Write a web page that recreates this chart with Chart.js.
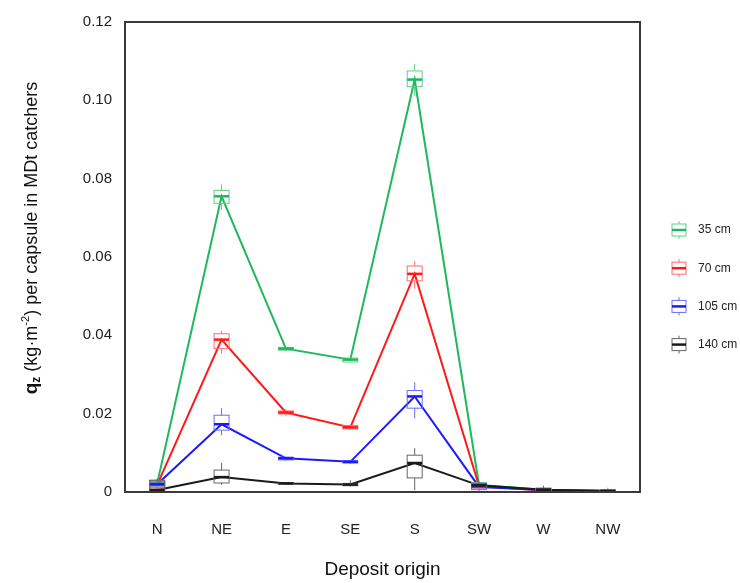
<!DOCTYPE html>
<html>
<head>
<meta charset="utf-8">
<script src="https://cdn.jsdelivr.net/npm/chart.js@4"></script>
<style>
  html, body { margin: 0; padding: 0; background: #fff; }
  #wrap { width: 740px; height: 583px; }
</style>
</head>
<body>
<div id="wrap"><canvas id="boxChart"></canvas></div>
<script>
// categories and tick labels
const origins = ['N', 'NE', 'E', 'SE', 'S', 'SW', 'W', 'NW'];
const yTicks = [0, 0.02, 0.04, 0.06, 0.08, 0.10, 0.12];

// 35 cm
const med35 = [0.0022, 0.0755, 0.0366, 0.0338, 0.1053, 0.0018, 0.0006, 0.0003];
const q1_35 = [0.0015, 0.0737, 0.0362, 0.0332, 0.1035, 0.0012, 0.0003, 0.0001];
const q3_35 = [0.0028, 0.0770, 0.0369, 0.0342, 0.1075, 0.0024, 0.0009, 0.0005];
const lo35  = [0.0010, 0.0720, 0.0360, 0.0330, 0.1010, 0.0010, 0.0002, 0.0000];
const hi35  = [0.0032, 0.0786, 0.0371, 0.0345, 0.1093, 0.0028, 0.0011, 0.0007];

// 70 cm
const med70 = [0.0018, 0.0389, 0.0203, 0.0165, 0.0557, 0.0015, 0.0004, 0.0002];
const q1_70 = [0.0008, 0.0366, 0.0199, 0.0161, 0.0539, 0.0010, 0.0001, 0.0000];
const q3_70 = [0.0030, 0.0404, 0.0207, 0.0170, 0.0577, 0.0020, 0.0008, 0.0005];
const lo70  = [0.0003, 0.0353, 0.0193, 0.0160, 0.0519, 0.0007, 0.0000, 0.0000];
const hi70  = [0.0034, 0.0412, 0.0212, 0.0172, 0.0590, 0.0024, 0.0012, 0.0011];

// 105 cm
const med105 = [0.0020, 0.0173, 0.0086, 0.0077, 0.0244, 0.0013, 0.0005, 0.0003];
const q1_105 = [0.0012, 0.0158, 0.0082, 0.0074, 0.0214, 0.0006, 0.0003, 0.0001];
const q3_105 = [0.0026, 0.0196, 0.0089, 0.0080, 0.0259, 0.0022, 0.0007, 0.0005];
const lo105  = [0.0008, 0.0145, 0.0080, 0.0072, 0.0188, 0.0000, 0.0002, 0.0000];
const hi105  = [0.0030, 0.0214, 0.0090, 0.0082, 0.0280, 0.0026, 0.0009, 0.0006];

// 140 cm
const med140 = [0.0005, 0.0038, 0.0022, 0.0019, 0.0074, 0.0017, 0.0006, 0.0002];
const q1_140 = [0.0003, 0.0023, 0.0020, 0.0016, 0.0036, 0.0012, 0.0003, 0.0001];
const q3_140 = [0.0030, 0.0056, 0.0024, 0.0022, 0.0094, 0.0022, 0.0010, 0.0004];
const lo140  = [0.0001, 0.0018, 0.0019, 0.0014, 0.0005, 0.0010, 0.0001, 0.0000];
const hi140  = [0.0034, 0.0074, 0.0025, 0.0030, 0.0112, 0.0025, 0.0016, 0.0006];

const seriesNames = ['35 cm', '70 cm', '105 cm', '140 cm'];
const lineColors = ['#1fb85a', '#ff1a1a', '#1a1aff', '#1a1a1a'];
const boxColors = ['#5fd08a', '#ff6a6a', '#6a6aff', '#666666'];

const boxes = [
  { q1: q1_35, q3: q3_35, lo: lo35, hi: hi35, med: med35 },
  { q1: q1_70, q3: q3_70, lo: lo70, hi: hi70, med: med70 },
  { q1: q1_105, q3: q3_105, lo: lo105, hi: hi105, med: med105 },
  { q1: q1_140, q3: q3_140, lo: lo140, hi: hi140, med: med140 }
];

const FONT = '"Liberation Sans", Arial, sans-serif';

function drawBoxIcon(ctx, cx, yTop, yQ3, yMed, yQ1, yBot, w, lineCol, boxCol) {
  ctx.save();
  ctx.strokeStyle = boxCol;
  ctx.lineWidth = 1;
  ctx.beginPath();
  ctx.moveTo(cx, yTop); ctx.lineTo(cx, yQ3);
  ctx.moveTo(cx, yQ1); ctx.lineTo(cx, yBot);
  ctx.stroke();
  ctx.strokeRect(cx - w / 2, yQ3, w, Math.max(yQ1 - yQ3, 1));
  ctx.strokeStyle = lineCol;
  ctx.lineWidth = 2.5;
  ctx.beginPath();
  ctx.moveTo(cx - w / 2, yMed); ctx.lineTo(cx + w / 2, yMed);
  ctx.stroke();
  ctx.restore();
}

const boxPlugin = {
  id: 'boxPlugin',
  afterDatasetsDraw(chart) {
    const ctx = chart.ctx;
    const x = chart.scales.x, y = chart.scales.y;
    boxes.forEach((b, s) => {
      origins.forEach((o, i) => {
        const cx = x.getPixelForValue(i);
        drawBoxIcon(ctx, cx,
          y.getPixelForValue(b.hi[i]), y.getPixelForValue(b.q3[i]),
          y.getPixelForValue(b.med[i]), y.getPixelForValue(b.q1[i]),
          y.getPixelForValue(b.lo[i]), 15, lineColors[s], boxColors[s]);
      });
    });
  },
  afterDraw(chart) {
    const ctx = chart.ctx;
    const a = chart.chartArea;
    // frame
    ctx.save();
    ctx.strokeStyle = '#3a3a3a';
    ctx.lineWidth = 2;
    ctx.strokeRect(a.left, a.top, a.right - a.left, a.bottom - a.top);
    ctx.restore();

    // legend
    ctx.save();
    seriesNames.forEach((name, s) => {
      const cy = 230 + s * 38.2;
      drawBoxIcon(ctx, 679, cy - 9, cy - 6, cy, cy + 6, cy + 9, 14, lineColors[s], boxColors[s]);
      ctx.fillStyle = '#222';
      ctx.font = '12px ' + FONT;
      ctx.textBaseline = 'middle';
      ctx.textAlign = 'left';
      ctx.fillText(name, 698, cy);
    });
    ctx.restore();

    // y axis title with bold q subscript z and superscript -2
    ctx.save();
    ctx.translate(32, 238);
    ctx.rotate(-Math.PI / 2);
    ctx.fillStyle = '#111';
    ctx.textBaseline = 'middle';
    ctx.textAlign = 'left';
    const parts = [
      { t: 'q', f: 'bold 19px ' + FONT, dy: 0 },
      { t: 'z', f: 'bold 12px ' + FONT, dy: 5 },
      { t: ' (kg\u00b7m', f: '18px ' + FONT, dy: 0 },
      { t: '-2', f: '11px ' + FONT, dy: -6 },
      { t: ') per capsule in MDt catchers', f: '18px ' + FONT, dy: 0 }
    ];
    let total = 0;
    parts.forEach(p => { ctx.font = p.f; total += ctx.measureText(p.t).width; });
    let px = -total / 2;
    parts.forEach(p => {
      ctx.font = p.f;
      ctx.fillText(p.t, px, p.dy);
      px += ctx.measureText(p.t).width;
    });
    ctx.restore();
  }
};

const datasets = [med35, med70, med105, med140].map((d, s) => ({
  label: seriesNames[s],
  data: d,
  borderColor: lineColors[s],
  backgroundColor: lineColors[s],
  borderWidth: 2,
  pointRadius: 0,
  tension: 0,
  order: 3 - s
}));

new Chart(document.getElementById('boxChart').getContext('2d'), {
  type: 'line',
  data: { labels: origins, datasets: datasets },
  options: {
    responsive: true,
    maintainAspectRatio: false,
    animation: false,
    layout: { padding: { left: 0, right: 100, top: 20, bottom: 0 } },
    plugins: { legend: { display: false }, tooltip: { enabled: false } },
    scales: {
      x: {
        offset: true,
        grid: { display: false, drawTicks: false },
        border: { display: false },
        ticks: { color: '#222', font: { family: FONT, size: 15 }, padding: 29 },
        title: {
          display: true, text: 'Deposit origin', color: '#111',
          font: { family: FONT, size: 19 }, padding: { top: 0, bottom: 2 }
        },
        afterFit(s) { s.height = 91; }
      },
      y: {
        min: 0, max: 0.12,
        afterBuildTicks(s) { s.ticks = yTicks.map(v => ({ value: v })); },
        grid: { display: false, drawTicks: false },
        border: { display: false },
        ticks: {
          color: '#222', font: { family: FONT, size: 15 }, padding: 13,
          callback: v => v === 0 ? '0' : v.toFixed(2)
        },
        afterFit(s) { s.width = 125; }
      }
    }
  },
  plugins: [boxPlugin]
});
</script>
</body>
</html>
